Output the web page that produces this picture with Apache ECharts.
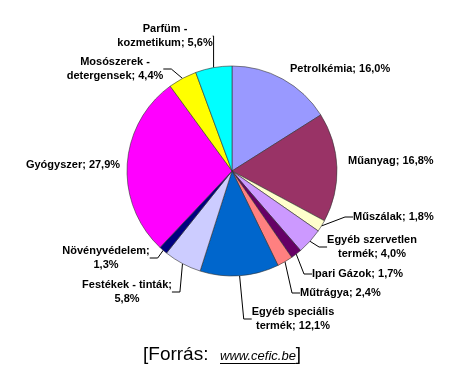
<!DOCTYPE html>
<html><head><meta charset="utf-8">
<script src="https://cdn.jsdelivr.net/npm/echarts@6/dist/echarts.min.js"></script>
<style>html,body{margin:0;padding:0;background:#fff}#c{width:462px;height:374px}</style>
</head><body><div id="c"></div>
<script>
var categories = ['Petrolkémia','Műanyag','Műszálak','Egyéb szervetlen\ntermék','Ipari Gázok','Műtrágya','Egyéb speciális\ntermék','Festékek - tinták;\n','Növényvédelem;\n','Gyógyszer','Mosószerek -\ndetergensek','Parfüm -\nkozmetikum'];
var values = [16.0,16.8,1.8,4.0,1.7,2.4,12.1,5.8,1.3,27.9,4.4,5.6];
var colors = ['#9999FF','#993366','#FFFFCC','#CC99FF','#660066','#FF8080','#0066CC','#CCCCFF','#000080','#FF00FF','#FFFF00','#00FFFF'];
var sourcePrefix = '[Forrás: ';
var sourceLink = 'www.cefic.be';
var sourceSuffix = ']';
// label anchor positions (x, y, align, show leader line)
var labelPos = [
  [290,69,'left',false],[348,161,'left',false],[353,217,'left',true],[372,247,'center',true],[312,274,'left',true],[300,293,'left',true],
  [293,319,'center',true],[127,292,'center',true],[106,258,'center',true],[73,165,'center',false],[115,69,'center',true],[165,36,'center',true]
];
function fmt(i){
  var v = values[i].toFixed(1).replace('.',',') + '%';
  var n = categories[i];
  if (n.slice(-1) === '\n') return n + v;
  return n + '; ' + v;
}
var cv = document.createElement('canvas').getContext('2d');
function measure(t,f){cv.font=f;return cv.measureText(t).width;}
var fA = '19px "Liberation Sans", Arial';
var fB = 'italic 13px "Liberation Sans", Arial';
var xA = 143, xB = 220;
var wB = measure(sourceLink,fB);
var chart = echarts.init(document.getElementById('c'));
chart.setOption({
  animation:false,
  series:[{
    type:'pie',
    center:[232,171],
    radius:[0,105],
    startAngle:90,
    clockwise:true,
    data: values.map(function(v,i){return {name:categories[i], value:v, itemStyle:{color:colors[i]}, labelLine:{show:labelPos[i][3]}};}),
    itemStyle:{borderColor:'#333',borderWidth:0.6},
    label:{show:true, formatter:function(p){return fmt(p.dataIndex);}, fontFamily:'Liberation Sans, Arial', fontWeight:'bold', fontSize:11, color:'#000', lineHeight:14},
    labelLine:{show:true, length:8, length2:8, lineStyle:{color:'#000',width:1}},
    labelLayout:function(p){
      var lp = labelPos[p.dataIndex];
      return {x:lp[0], y:lp[1], align:lp[2], verticalAlign:'middle'};
    }
  }],
  graphic:[
    {type:'text', x:xA, y:355, style:{text:sourcePrefix, font:fA, fill:'#000', verticalAlign:'middle'}},
    {type:'text', x:xB, y:356, style:{text:sourceLink, font:fB, fill:'#000', verticalAlign:'middle'}},
    {type:'line', shape:{x1:xB,y1:363.5,x2:xB+wB,y2:363.5}, style:{stroke:'#000',lineWidth:1}},
    {type:'text', x:xB+wB, y:355, style:{text:sourceSuffix, font:fA, fill:'#000', verticalAlign:'middle'}}
  ]
});
</script></body></html>
